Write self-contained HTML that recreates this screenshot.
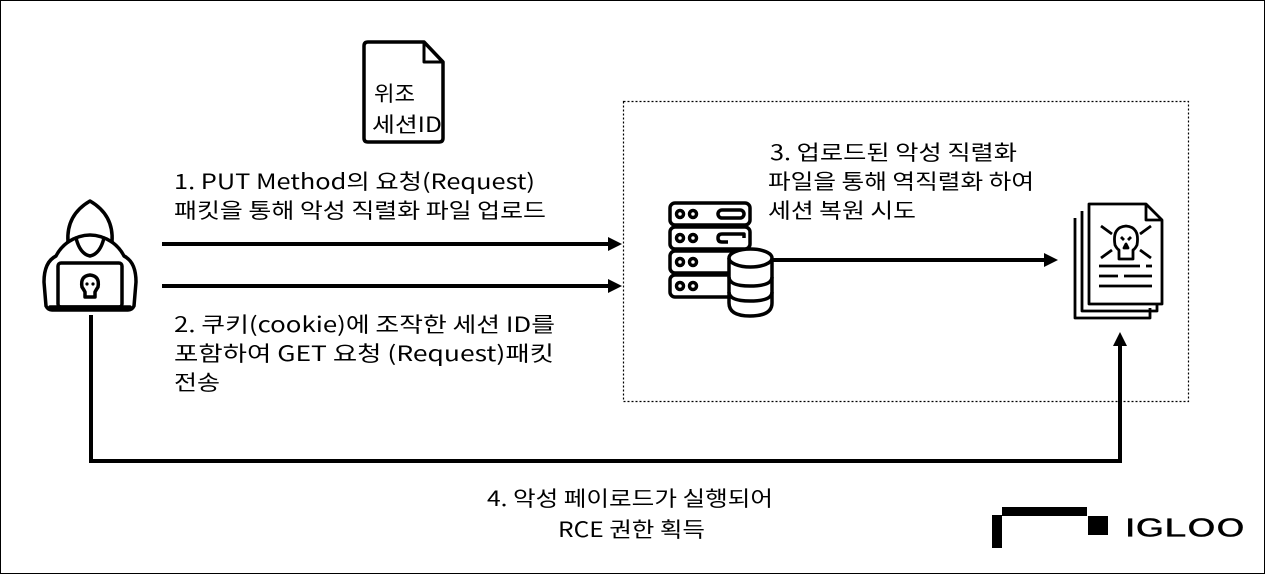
<!DOCTYPE html>
<html><head><meta charset="utf-8"><style>
html,body{margin:0;padding:0;background:#fff}
svg{display:block}
text{font-family:"Noto Sans CJK KR","Liberation Sans",sans-serif;font-size:21px;fill:#000}
</style></head><body>
<svg width="1265" height="574" viewBox="0 0 1265 574" xmlns="http://www.w3.org/2000/svg">
<rect x="0.5" y="0.5" width="1264" height="573" fill="#fff" stroke="#000" stroke-width="1"/>
<rect x="623.5" y="101.5" width="565" height="300" fill="none" stroke="#000" stroke-width="1.2" stroke-dasharray="2,2"/>

<!-- forged doc -->
<path d="M368,42 H424 L443,62 V138 Q443,142 439,142 H368 Q364,142 364,138 V46 Q364,42 368,42 Z" fill="none" stroke="#000" stroke-width="3.5" stroke-linejoin="round"/>
<path d="M424,42 V62 H443" fill="none" stroke="#000" stroke-width="3" stroke-linejoin="round"/>
<text x="374" y="101" textLength="41" lengthAdjust="spacingAndGlyphs">위조</text>
<text x="372" y="132" textLength="70" lengthAdjust="spacingAndGlyphs">세션ID</text>

<!-- arrows -->
<line x1="162" y1="244" x2="610" y2="244" stroke="#000" stroke-width="4"/>
<polygon points="622,244 608,237 608,251" fill="#000"/>
<line x1="162" y1="286" x2="610" y2="286" stroke="#000" stroke-width="4"/>
<polygon points="622,286 608,279 608,293" fill="#000"/>
<line x1="770" y1="260" x2="1046" y2="260" stroke="#000" stroke-width="4"/>
<polygon points="1058,260 1044,253 1044,267" fill="#000"/>
<polyline points="91,315 91,461 1120,461 1120,345" fill="none" stroke="#000" stroke-width="4"/>
<polygon points="1120,332 1113,346 1127,346" fill="#000"/>

<!-- texts -->
<g style="" >
<text x="174" y="189" textLength="361" lengthAdjust="spacingAndGlyphs">1. PUT Method의 요청(Request)</text>
<text x="174" y="218" textLength="372" lengthAdjust="spacingAndGlyphs">패킷을 통해 악성 직렬화 파일 업로드</text>
<text x="174" y="332" textLength="381" lengthAdjust="spacingAndGlyphs">2. 쿠키(cookie)에 조작한 세션 ID를</text>
<text x="174" y="361" textLength="380" lengthAdjust="spacingAndGlyphs">포함하여 GET 요청 (Request)패킷</text>
<text x="174" y="390" textLength="46" lengthAdjust="spacingAndGlyphs">전송</text>
<text x="770" y="160" textLength="247" lengthAdjust="spacingAndGlyphs">3. 업로드된 악성 직렬화</text>
<text x="768" y="189" textLength="266" lengthAdjust="spacingAndGlyphs">파일을 통해 역직렬화 하여</text>
<text x="768" y="218" textLength="148" lengthAdjust="spacingAndGlyphs">세션 복원 시도</text>
<text x="487" y="506" textLength="286" lengthAdjust="spacingAndGlyphs">4. 악성 페이로드가 실행되어</text>
<text x="558" y="537" textLength="147" lengthAdjust="spacingAndGlyphs">RCE 권한 획득</text>
</g>

<!-- hacker -->
<g fill="none" stroke="#000" stroke-width="3.5" stroke-linejoin="round" stroke-linecap="round">
<path d="M68,242 Q66,215 90,201 Q114,215 112,242"/>
<path d="M68,242 Q90,228 112,242"/>
<path d="M76,238 Q80,254 90,256 Q100,254 104,238"/>
<path d="M68,242 Q60,248 56,256 Q44,262 44,282 L46,306 Q48,310 52,310 H128 Q132,310 134,306 L136,282 Q136,262 124,256 Q120,248 112,242"/>
<rect x="58" y="263" width="64" height="44" rx="3"/>
<line x1="50" y1="307" x2="130" y2="307"/>
<path d="M82,287 Q80,276 90,275 Q100,276 98,287 Q96,290 95,292 V297 H85 V292 Q84,290 82,287 Z"/>
</g>
<circle cx="87" cy="284" r="1.6" fill="#000"/><circle cx="93" cy="284" r="1.6" fill="#000"/>

<!-- server -->
<g fill="none" stroke="#000" stroke-width="3.5" stroke-linejoin="round">
<rect x="670" y="203" width="80" height="22" rx="5"/>
<rect x="670" y="227" width="80" height="22" rx="5"/>
<rect x="670" y="251" width="80" height="22" rx="5"/>
<rect x="670" y="275" width="80" height="22" rx="5"/>
<rect x="718" y="210" width="26" height="8" rx="4"/>
<path d="M744,238 V234 H722 Q718,234 718,238 Q718,242 722,242 H728"/>
<circle cx="680" cy="214" r="3.5"/><circle cx="693" cy="214" r="3.5"/>
<circle cx="680" cy="238" r="3.5"/><circle cx="693" cy="238" r="3.5"/>
<circle cx="680" cy="262" r="3.5"/><circle cx="693" cy="262" r="3.5"/>
<circle cx="680" cy="286" r="3.5"/><circle cx="693" cy="286" r="3.5"/>
<path d="M729,258 V303 Q729,316 750,316 Q772,316 772,303 V258" fill="#fff"/>
<ellipse cx="750.5" cy="258" rx="21.5" ry="9" fill="#fff"/>
<path d="M729,277 Q729,286 750,286 Q772,286 772,277"/>
<path d="M729,292 Q729,301 750,301 Q772,301 772,292"/>
</g>

<!-- malicious docs -->
<g fill="none" stroke="#000" stroke-width="2.8" stroke-linejoin="round">
<path d="M1075,218 V318 H1150 V308"/>
<path d="M1082,211 V311 H1157 V301"/>
<path d="M1089,204 H1146 L1162,220 V304 H1089 Z" fill="#fff"/>
<path d="M1146,204 V220 H1162"/>
<path d="M1115,245 Q1112,227 1126,226 Q1140,227 1137,245 Q1135,249 1133,250 V259 H1119 V250 Q1117,249 1115,245 Z"/>
<path d="M1121,237 L1124,240 M1131,237 L1128,240"/>
<path d="M1126,244 L1124,248 H1128 Z"/>
<path d="M1112,234 L1101,226 M1140,234 L1151,226 M1112,250 L1101,258 M1140,250 L1151,258"/>
<line x1="1099" y1="266" x2="1140" y2="266"/><line x1="1146" y1="266" x2="1152" y2="266"/>
<line x1="1099" y1="276" x2="1118" y2="276"/><line x1="1124" y1="276" x2="1152" y2="276"/>
<line x1="1099" y1="286" x2="1152" y2="286"/>
</g>

<!-- IGLOO logo -->
<rect x="992" y="515" width="10" height="33" fill="#000"/>
<rect x="1002" y="507" width="85" height="9" fill="#000"/>
<rect x="1088" y="516" width="20" height="19" fill="#000"/>
<text x="1125" y="537" textLength="120" lengthAdjust="spacingAndGlyphs" style="font-family:'Liberation Sans',sans-serif;font-size:28px;font-weight:bold;stroke:#fff;stroke-width:0.8">IGLOO</text>
</svg>
</body></html>
